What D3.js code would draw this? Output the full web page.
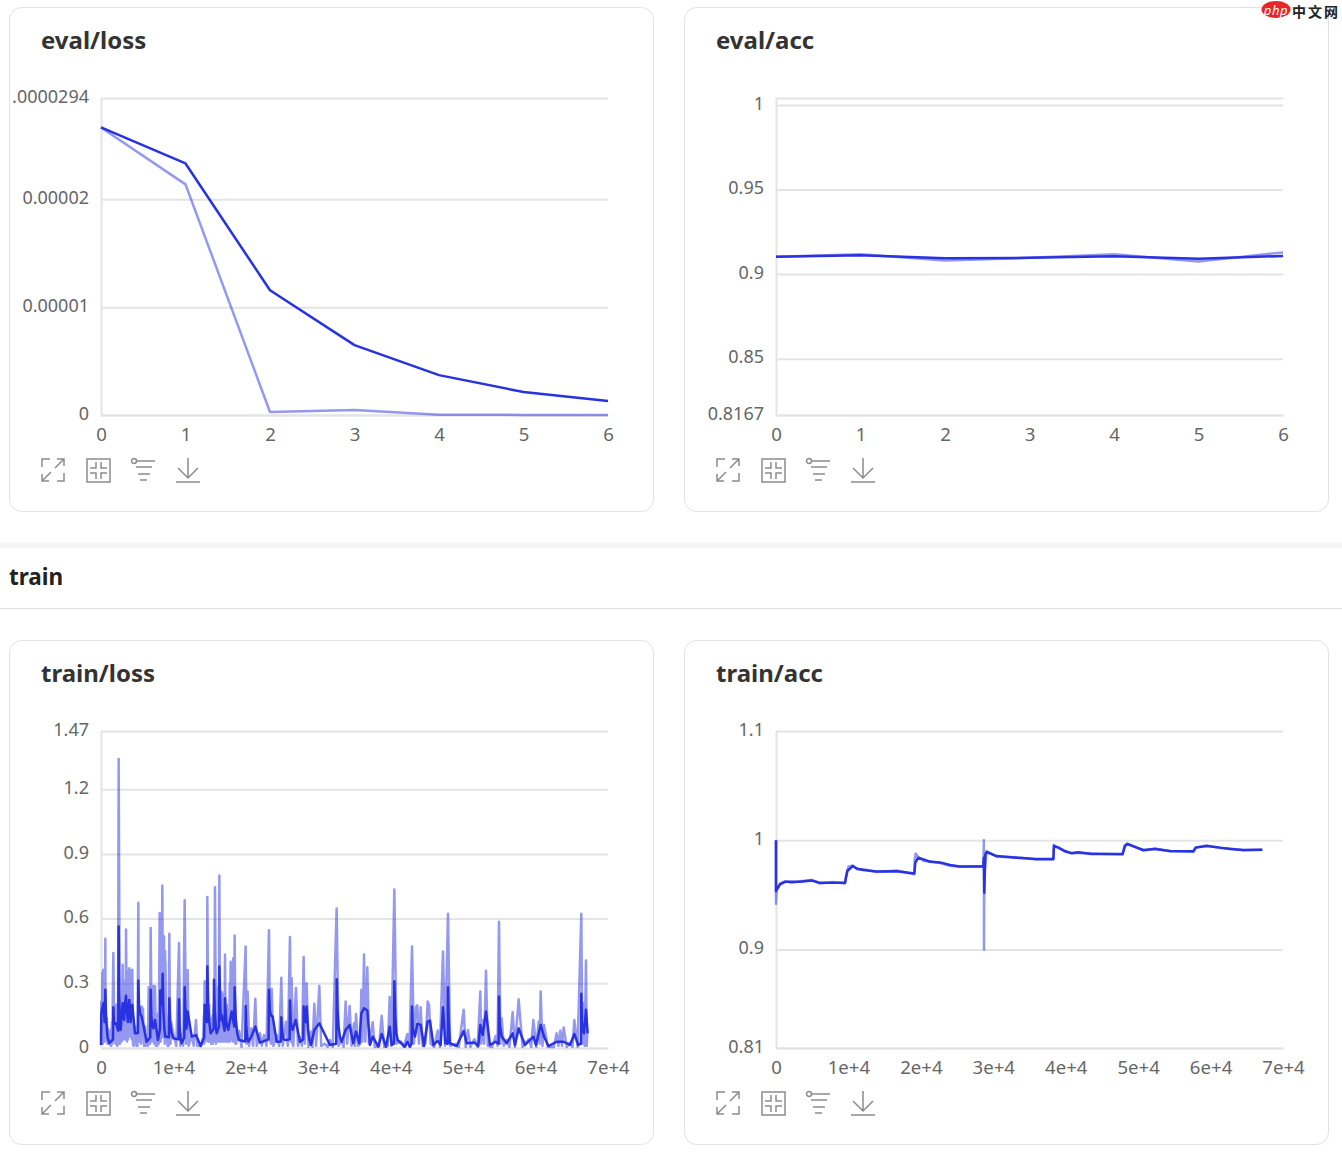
<!DOCTYPE html>
<html>
<head>
<meta charset="utf-8">
<script src="https://cdn.jsdelivr.net/npm/d3@7"></script>
<style>
  body { margin: 0; background: #fff; }
  text { font-family: "Noto Sans", sans-serif; }
</style>
</head>
<body>
<div id="chart"></div>
<script>
// eval charts
var evalSteps = [0, 1, 2, 3, 4, 5, 6];
var evalLossSmooth = [2.667e-5, 2.333e-5, 1.157e-5, 6.48e-6, 3.7e-6, 2.13e-6, 1.3e-6];
var evalLossRaw = [2.667e-5, 2.139e-5, 2.8e-7, 4.6e-7, 2e-8, 1e-8, 1e-8];
var evalAccSmooth = [0.9102, 0.9111, 0.9093, 0.9096, 0.9105, 0.9091, 0.9107];
var evalAccRaw = [0.9102, 0.9118, 0.9081, 0.9096, 0.9117, 0.9075, 0.9128];

// train/loss, read spike by spike. second block of each array = the small spikes
// in the busy stretches, added later (points get sorted by step before drawing)
var trainLossRawSteps = [
  0, 46, 120, 200, 322, 420, 480, 540, 598, 700,
  800, 900, 1150, 1400, 1702, 1850, 2071, 2250, 2439, 2600,
  2715, 2850, 2991, 3130, 3250, 3350, 3451, 3600, 3750, 3800,
  3911, 4050, 4200, 4260, 4325, 4500, 4694, 4900, 5154, 5300,
  5450, 5550, 5614, 5800, 5950, 6304, 6580, 6700, 6857, 7000,
  7225, 7350, 7455, 7650, 7869, 7980, 8099, 8240, 8467, 8560,
  8697, 8800, 8900, 9000, 9065, 9200, 9434, 9600, 9800, 10078,
  10400, 10768, 10950, 11136, 11350, 11551, 11750, 11965, 12100, 12517,
  12800, 13115, 13300, 13760, 14100, 14312, 14450, 14560, 14680, 14850,
  15000, 15140, 15300, 15500, 15738, 15900, 16100, 16200, 16337, 16500,
  16659, 16800, 16950, 17119, 17300, 17450, 17579, 17700, 17901, 18000,
  18100, 18269, 18350, 18453, 18650, 19052, 19400, 19972, 20100, 20248,
  20450, 20754, 21000, 21306, 21500, 21950, 22200, 22502, 22850, 23193,
  23350, 23561, 23800, 24251, 24600, 24895, 25100, 25540, 25800, 26093,
  26200, 26323, 26550, 26921, 27200, 27473, 27750, 27979, 28150, 28394,
  28650, 28992, 29200, 29452, 29700, 30143, 30400, 30925, 31300, 31615,
  32000, 32535, 32800, 33226, 33500, 33778, 34000, 34330, 34600, 34931,
  35060, 35207, 35500, 35800, 35944, 36100, 36312, 36500, 36772, 37000,
  37508, 37800, 38400, 38751, 39100, 39600, 39856, 40100, 40500, 40800,
  41420, 41800, 42295, 42600, 42939, 43200, 43500, 43675, 43900, 44135,
  44400, 44800, 45102, 45300, 45500, 46000, 46482, 46800, 47219, 47500,
  47909, 48200, 48876, 49400, 50072, 50350, 50670, 51000, 51544, 52000,
  52373, 52500, 52649, 52900, 53155, 53400, 54000, 54490, 54750, 54950,
  55150, 55318, 55600, 56008, 56400, 56837, 57150, 57665, 58200, 59046,
  59400, 59690, 60100, 60427, 60560, 60703, 60950, 61163, 61700, 62500,
  62912, 63150, 63418, 63650, 63878, 64300, 64753, 65100, 65351, 65800,
  66317, 66450, 66593, 66800, 66961, 67060, 67145,

  260, 620, 660, 760, 980, 1040, 1280, 1330, 1500, 1560,
  1950, 2000, 2150, 2350, 2650, 3050, 3080, 3190, 3210, 3300,
  3380, 3400, 3520, 3540, 3680, 3700, 3980, 4000, 4130, 4160,
  4400, 4430, 5000, 5050, 5200, 5240, 5380, 5400, 6100, 6150,
  6450, 6480, 6760, 6780, 7100, 7120, 7550, 7580, 7750, 7780,
  8180, 8200, 8350, 8370, 8620, 8640, 8850, 8860, 8950, 9300,
  9330, 9520, 9550, 9700, 14200, 14230, 14400, 14420, 14620, 14640,
  14780, 14800, 14950, 14970, 15220, 15240, 15400, 15420, 15620, 15640,
  15850, 15870, 16050, 16250, 16270, 16420, 16440, 16580, 16600, 16730,
  16750, 16880, 17020, 17040, 17200, 17220, 17360, 17380, 17500, 17520,
  17780, 17800, 18180, 18200, 18530, 18560, 23450, 23470, 26430, 26450
];
var trainLossRawValues = [
  0.05, 0.216, 0.02, 0.35, 0.363, 0.03, 0.36, 0.05, 0.507, 0.07,
  0.14, 0.02, 0.05, 0.01, 0.44, 0.03, 0.2, 0.01, 1.34, 0.02,
  0.2, 0.03, 0.386, 0.04, 0.3, 0.05, 0.549, 0.03, 0.36, 0.05,
  0.37, 0.06, 0.36, 0.04, 0.363, 0.01, 0.1, 0.01, 0.673, 0.03,
  0.19, 0.02, 0.192, 0.18, 0.01, 0.03, 0.282, 0.02, 0.557, 0.03,
  0.288, 0.02, 0.288, 0.01, 0.16, 0.02, 0.626, 0.03, 0.753, 0.05,
  0.518, 0.02, 0.4, 0.03, 0.1, 0.01, 0.53, 0.02, 0.1, 0.053,
  0.01, 0.487, 0.01, 0.06, 0.01, 0.685, 0.02, 0.36, 0.01, 0.06,
  0.01, 0.13, 0.01, 0.01, 0.05, 0.309, 0.04, 0.31, 0.7, 0.03,
  0.14, 0.13, 0.02, 0.16, 0.746, 0.03, 0.28, 0.03, 0.8, 0.04,
  0.26, 0.03, 0.25, 0.433, 0.03, 0.18, 0.17, 0.03, 0.4, 0.04,
  0.39, 0.417, 0.03, 0.522, 0.02, 0.08, 0.005, 0.471, 0.02, 0.262,
  0.01, 0.091, 0.01, 0.228, 0.01, 0.068, 0.01, 0.06, 0.01, 0.546,
  0.03, 0.274, 0.01, 0.06, 0.01, 0.326, 0.01, 0.122, 0.01, 0.515,
  0.03, 0.324, 0.01, 0.278, 0.01, 0.05, 0.01, 0.422, 0.02, 0.3,
  0.005, 0.076, 0.005, 0.205, 0.01, 0.288, 0.01, 0.02, 0.005, 0.037,
  0.005, 0.647, 0.01, 0.04, 0.005, 0.216, 0.02, 0.195, 0.01, 0.115,
  0.01, 0.158, 0.01, 0.02, 0.27, 0.03, 0.434, 0.03, 0.374, 0.02,
  0.119, 0.005, 0.01, 0.149, 0.005, 0.01, 0.236, 0.01, 0.735, 0.02,
  0.03, 0.005, 0.065, 0.005, 0.471, 0.02, 0.19, 0.198, 0.02, 0.189,
  0.01, 0.02, 0.216, 0.2, 0.02, 0.005, 0.081, 0.005, 0.448, 0.01,
  0.623, 0.01, 0.019, 0.005, 0.177, 0.005, 0.084, 0.005, 0.04, 0.005,
  0.262, 0.02, 0.13, 0.02, 0.358, 0.01, 0.005, 0.056, 0.01, 0.586,
  0.02, 0.138, 0.01, 0.037, 0.005, 0.167, 0.005, 0.226, 0.005, 0.04,
  0.005, 0.13, 0.005, 0.122, 0.02, 0.262, 0.01, 0.107, 0.005, 0.005,
  0.068, 0.01, 0.081, 0.01, 0.095, 0.005, 0.025, 0.005, 0.13, 0.005,
  0.622, 0.02, 0.208, 0.01, 0.406, 0.01, 0.068,

  0.02, 0.25, 0.03, 0.12, 0.09, 0.02, 0.08, 0.01, 0.12, 0.02,
  0.16, 0.02, 0.1, 0.03, 0.12, 0.2, 0.04, 0.29, 0.05, 0.28,
  0.32, 0.04, 0.3, 0.05, 0.35, 0.04, 0.34, 0.06, 0.35, 0.05,
  0.12, 0.02, 0.1, 0.01, 0.2, 0.03, 0.18, 0.03, 0.1, 0.01,
  0.05, 0.01, 0.14, 0.02, 0.2, 0.03, 0.1, 0.01, 0.08, 0.01,
  0.35, 0.05, 0.3, 0.05, 0.4, 0.05, 0.45, 0.03, 0.2, 0.15,
  0.01, 0.15, 0.02, 0.12, 0.15, 0.02, 0.2, 0.03, 0.3, 0.04,
  0.2, 0.03, 0.2, 0.03, 0.1, 0.02, 0.15, 0.02, 0.2, 0.03,
  0.15, 0.02, 0.25, 0.2, 0.03, 0.22, 0.03, 0.2, 0.03, 0.22,
  0.03, 0.24, 0.25, 0.03, 0.15, 0.03, 0.2, 0.03, 0.17, 0.03,
  0.3, 0.03, 0.38, 0.03, 0.18, 0.02, 0.16, 0.02, 0.15, 0.02
];

var trainLossSmoothSteps = [
  0, 46, 322, 598, 1150, 1702, 2071, 2439, 2715, 2991,
  3451, 3911, 4325, 4694, 5154, 5614, 6304, 6857, 7225, 7455,
  7869, 8191, 8513, 8881, 9434, 9986, 10768, 11136, 11551, 11965,
  12517, 13115, 13760, 14312, 14680, 15140, 15600, 15968, 16337, 16659,
  17119, 17579, 18040, 18453, 19052, 19972, 20340, 20754, 21306, 21950,
  23193, 23700, 24251, 24895, 25540, 26093, 26461, 26875, 27473, 27979,
  28394, 28992, 29452, 30143, 31615, 32535, 33226, 33778, 34330, 34836,
  35207, 35668, 35944, 36312, 36772, 37140, 37508, 38291, 38751, 39349,
  39856, 40132, 40500, 40960, 41972, 42295, 42663, 42939, 43353, 43675,
  44135, 44596, 45102, 45424, 45884, 46482, 46896, 47219, 47541, 47909,
  48185, 49105, 50072, 50486, 51544, 52097, 52373, 52695, 53155, 53707,
  54490, 54950, 55318, 56008, 56837, 57159, 57665, 58540, 59690, 60058,
  60703, 61163, 61761, 62912, 63878, 64753, 65351, 65903, 66317, 66685,
  66961, 67191,

  500, 700, 900, 1650, 1800, 2380, 2500, 2600, 3200, 3300,
  3700, 4100, 4200, 5100, 5250, 5400, 6800, 6950, 7050, 8150,
  8460, 8600, 8750, 9380, 9550, 9750, 10710, 10850, 10980, 11500,
  11650, 11800, 14250, 14640, 14800, 14950, 15560, 15700, 15850, 16290,
  16450, 16550, 17060, 17250, 17400, 18400, 18600, 18800, 19920, 20050,
  20200, 23130, 23320, 23500, 24840, 25000, 25200, 26040, 26200, 26300,
  27930, 28100, 28250, 28600, 28800, 32480, 32650, 32800, 33000, 40450,
  40620, 40780, 47860, 48000, 42890, 43050, 54900, 55050, 66270, 66400
];
var trainLossSmoothValues = [
  0.014, 0.161, 0.208, 0.27, 0.022, 0.189, 0.115, 0.564, 0.084, 0.208,
  0.242, 0.223, 0.2, 0.068, 0.313, 0.146, 0.029, 0.27, 0.091, 0.13,
  0.037, 0.267, 0.344, 0.053, 0.231, 0.045, 0.226, 0.022, 0.282, 0.169,
  0.053, 0.06, 0.009, 0.2, 0.378, 0.068, 0.316, 0.068, 0.378, 0.153,
  0.231, 0.084, 0.169, 0.282, 0.037, 0.195, 0.029, 0.053, 0.099, 0.025,
  0.27, 0.146, 0.029, 0.143, 0.037, 0.22, 0.084, 0.13, 0.029, 0.192,
  0.192, 0.014, 0.084, 0.115, 0.014, 0.319, 0.029, 0.084, 0.107, 0.022,
  0.076, 0.022, 0.161, 0.184, 0.174, 0.014, 0.053, 0.006, 0.065, 0.006,
  0.099, 0.014, 0.309, 0.037, 0.006, 0.029, 0.006, 0.192, 0.053, 0.112,
  0.107, 0.009, 0.122, 0.127, 0.014, 0.033, 0.014, 0.189, 0.022, 0.282,
  0.022, 0.009, 0.079, 0.022, 0.025, 0.009, 0.107, 0.06, 0.169, 0.014,
  0.029, 0.239, 0.053, 0.022, 0.068, 0.014, 0.091, 0.014, 0.053, 0.014,
  0.107, 0.053, 0.009, 0.029, 0.029, 0.014, 0.065, 0.014, 0.251, 0.068,
  0.177, 0.068,

  0.12, 0.14, 0.05, 0.04, 0.11, 0.08, 0.25, 0.13, 0.13, 0.2,
  0.12, 0.12, 0.19, 0.07, 0.2, 0.16, 0.05, 0.15, 0.11, 0.09,
  0.2, 0.18, 0.09, 0.05, 0.12, 0.07, 0.04, 0.1, 0.05, 0.05,
  0.18, 0.09, 0.05, 0.12, 0.2, 0.12, 0.09, 0.18, 0.1, 0.1,
  0.22, 0.13, 0.08, 0.14, 0.1, 0.1, 0.14, 0.07, 0.03, 0.1,
  0.05, 0.04, 0.17, 0.15, 0.03, 0.08, 0.04, 0.04, 0.12, 0.1,
  0.04, 0.15, 0.12, 0.08, 0.035, 0.02, 0.18, 0.1, 0.05, 0.02,
  0.15, 0.07, 0.02, 0.13, 0.02, 0.09, 0.02, 0.11, 0.02, 0.12
];

// train/acc
var trainAccRawSteps = [
  0, 0, 100, 553, 1243, 2200, 3313, 4925, 6075, 7800,
  9527, 9700, 9987, 10585, 11229, 12058, 13898, 16660, 19099, 19150,
  19283, 19649, 20400, 21260, 22642, 24023, 25403, 28625, 28700, 28720,
  28760, 29085, 30466, 33233, 35930, 38291, 38350, 38500, 38982, 39902,
  40822, 41743, 43584, 47863, 48100, 48507, 49797, 50717, 52328, 54398,
  57620, 57942, 59460, 61301, 62682, 64523, 67146
];
var trainAccRawValues = [
  1, 0.942, 0.955, 0.9605, 0.9625, 0.9612, 0.9625, 0.9638, 0.9605, 0.9618,
  0.9605, 0.968, 0.9758, 0.977, 0.9735, 0.9735, 0.971, 0.9725, 0.969, 0.982,
  0.988, 0.9845, 0.981, 0.9808, 0.9792, 0.9768, 0.9758, 0.9765, 1, 0.9,
  0.97, 0.99, 0.985, 0.9845, 0.9825, 0.9825, 0.996, 0.9945, 0.9935, 0.9895,
  0.9885, 0.9885, 0.988, 0.987, 0.995, 0.997, 0.9935, 0.9905, 0.9925, 0.99,
  0.9895, 0.9935, 0.9952, 0.993, 0.9925, 0.991, 0.9914
];
var trainAccSmoothSteps = [
  0, 0, 553, 1243, 3313, 4925, 6075, 9527, 9849, 10585,
  11229, 12058, 13898, 16660, 19099, 19237, 19649, 21260, 22642, 24023,
  25403, 28625, 28700, 28760, 28900, 29085, 30466, 33233, 35930, 38291,
  38383, 38982, 39902, 40822, 41743, 43584, 47863, 48186, 48507, 49797,
  50717, 52328, 54398, 57620, 57942, 59460, 61301, 62682, 64523, 67146
];
var trainAccSmoothValues = [
  1, 0.9535, 0.9596, 0.962, 0.962, 0.9633, 0.9611, 0.9611, 0.9719, 0.9764,
  0.974, 0.9728, 0.9715, 0.9718, 0.9697, 0.9795, 0.9841, 0.9804, 0.9798, 0.9774,
  0.9761, 0.9761, 0.984, 0.952, 0.987, 0.9893, 0.9856, 0.984, 0.983, 0.9829,
  0.9948, 0.9933, 0.9902, 0.9881, 0.989, 0.9875, 0.9875, 0.9948, 0.9966, 0.9933,
  0.9911, 0.992, 0.9902, 0.9899, 0.9933, 0.9948, 0.9933, 0.992, 0.9911, 0.9914
];

// tick labels
var evalXTicks = [0, 1, 2, 3, 4, 5, 6];
var trainXTicks = [0, 10000, 20000, 30000, 40000, 50000, 60000, 70000];
var trainXLabels = ["0", "1e+4", "2e+4", "3e+4", "4e+4", "5e+4", "6e+4", "7e+4"];
var evalLossTicks = [0, 0.00001, 0.00002, 0.0000294];
var evalLossLabels = ["0", "0.00001", "0.00002", ".0000294"];
var evalAccTicks = [0.8167, 0.85, 0.9, 0.95, 1, 1.0041];
var evalAccLabels = ["0.8167", "0.85", "0.9", "0.95", "1", ""];
var trainLossTicks = [0, 0.3, 0.6, 0.9, 1.2, 1.47];
var trainLossLabels = ["0", "0.3", "0.6", "0.9", "1.2", "1.47"];
var trainAccTicks = [0.81, 0.9, 1, 1.1];
var trainAccLabels = ["0.81", "0.9", "1", "1.1"];

var width = 1342;
var height = 1154;
var lineColor = "#2932e1";
var gridColor = "#e4e4e4";
var tickColor = "#666";
var iconColor = "#8c8c8c";

var svg = d3.select("#chart").append("svg")
  .attr("width", width)
  .attr("height", height)
  .style("display", "block");

// section divider
svg.append("rect").attr("x", 0).attr("y", 542).attr("width", width).attr("height", 6).attr("fill", "#f5f5f5");
svg.append("rect").attr("x", 0).attr("y", 608).attr("width", width).attr("height", 1).attr("fill", "#dedede");
svg.append("text").attr("x", 9).attr("y", 585)
  .attr("font-size", "22.5px").attr("font-weight", "bold").attr("fill", "#222")
  .text("train");

function drawIcons(g) {
  var icon = function(x) {
    return g.append("g").attr("transform", "translate(" + x + ",0)")
      .attr("fill", "none").attr("stroke", iconColor).attr("stroke-width", 1.5);
  };
  icon(32).append("path").attr("d", "M9 1H1V9M14 10L23 1M16 1H23V8M1 23L10 14M1 16V23H8M23 15V23H16");
  var fit = icon(77);
  fit.append("rect").attr("x", 1).attr("y", 1).attr("width", 23).attr("height", 23);
  fit.append("path").attr("d", "M10 4V10H4M15 4V10H21M4 15H10V21M21 15H15V21");
  var filter = icon(122);
  filter.append("circle").attr("cx", 3).attr("cy", 3).attr("r", 2.5);
  filter.append("path").attr("d", "M6 3H24M5 9H21M7 16H19M9 22H16");
  icon(167).append("path").attr("d", "M0 24H24M12 0V20M2 10L12 20L22 10");
}

function sortedPoints(steps, values) {
  return d3.zip(steps, values).sort(function(a, b) { return a[0] - b[0]; });
}

function drawCard(opts) {
  var card = svg.append("g").attr("transform", "translate(" + opts.x + "," + opts.y + ")");

  card.append("rect")
    .attr("x", 0.5).attr("y", 0.5)
    .attr("width", 644).attr("height", 504)
    .attr("rx", 12)
    .attr("fill", "#fff").attr("stroke", "#e2e2e2");

  card.append("text").attr("x", 32).attr("y", 42)
    .attr("font-size", "24px").attr("font-weight", "bold").attr("fill", "#333")
    .text(opts.title);

  var x = d3.scaleLinear().domain(opts.xDomain).range([92, 599]);
  var y = d3.scaleLinear().domain(opts.yDomain).range([408, 91]);

  // y axis, the tick lines are the grid
  var yAxis = card.append("g")
    .attr("transform", "translate(92,0)")
    .call(d3.axisLeft(y)
      .tickValues(opts.yTicks)
      .tickFormat(function(d, i) { return opts.yLabels[i]; })
      .tickSize(-507)
      .tickPadding(12));
  yAxis.selectAll("line").attr("stroke", gridColor).attr("stroke-width", 2);
  yAxis.selectAll("text").attr("fill", tickColor).attr("font-size", "18px").attr("dy", "4.3px")
    .style("font-family", '"Noto Sans", sans-serif');
  yAxis.select(".domain").attr("stroke", gridColor).attr("stroke-width", 2).attr("d", "M0.5,91V408");

  var xAxis = card.append("g")
    .attr("transform", "translate(0,408)")
    .call(d3.axisBottom(x)
      .tickValues(opts.xTicks)
      .tickFormat(function(d, i) { return opts.xLabels ? opts.xLabels[i] : d; })
      .tickSize(0)
      .tickPadding(13));
  xAxis.selectAll("text").attr("fill", tickColor).attr("font-size", "18.6px")
    .style("font-family", '"Noto Sans", sans-serif');
  xAxis.select(".domain").attr("stroke", gridColor).attr("stroke-width", 2);

  var line = d3.line()
    .x(function(d) { return x(d[0]); })
    .y(function(d) { return y(d[1]); });

  card.append("path")
    .attr("d", line(sortedPoints(opts.rawSteps, opts.raw)))
    .attr("fill", "none").attr("stroke", lineColor).attr("stroke-width", 2.5)
    .attr("stroke-opacity", 0.5).attr("stroke-linejoin", "round");
  card.append("path")
    .attr("d", line(sortedPoints(opts.smoothSteps, opts.smooth)))
    .attr("fill", "none").attr("stroke", lineColor).attr("stroke-width", 2.5)
    .attr("stroke-linejoin", "round");

  drawIcons(card.append("g").attr("transform", "translate(0,451)"));
}

drawCard({
  x: 9, y: 7, title: "eval/loss",
  xDomain: [0, 6], yDomain: [0, 0.0000294],
  xTicks: evalXTicks, yTicks: evalLossTicks, yLabels: evalLossLabels,
  rawSteps: evalSteps, raw: evalLossRaw, smoothSteps: evalSteps, smooth: evalLossSmooth
});
drawCard({
  x: 684, y: 7, title: "eval/acc",
  xDomain: [0, 6], yDomain: [0.8167, 1.0041],
  xTicks: evalXTicks, yTicks: evalAccTicks, yLabels: evalAccLabels,
  rawSteps: evalSteps, raw: evalAccRaw, smoothSteps: evalSteps, smooth: evalAccSmooth
});
drawCard({
  x: 9, y: 640, title: "train/loss",
  xDomain: [0, 70000], yDomain: [0, 1.47],
  xTicks: trainXTicks, xLabels: trainXLabels, yTicks: trainLossTicks, yLabels: trainLossLabels,
  rawSteps: trainLossRawSteps, raw: trainLossRawValues, smoothSteps: trainLossSmoothSteps, smooth: trainLossSmoothValues
});
drawCard({
  x: 684, y: 640, title: "train/acc",
  xDomain: [0, 70000], yDomain: [0.81, 1.1],
  xTicks: trainXTicks, xLabels: trainXLabels, yTicks: trainAccTicks, yLabels: trainAccLabels,
  rawSteps: trainAccRawSteps, raw: trainAccRawValues, smoothSteps: trainAccSmoothSteps, smooth: trainAccSmoothValues
});

// site watermark, top right
var mark = svg.append("g");
mark.append("ellipse").attr("cx", 1276).attr("cy", 9.5).attr("rx", 14.5).attr("ry", 8.5).attr("fill", "#e8262a");
mark.append("text").attr("x", 1276).attr("y", 14.5).attr("text-anchor", "middle")
  .attr("font-size", "13px").attr("font-style", "italic").attr("letter-spacing", "0.6px").attr("fill", "#fff").text("php");
mark.append("text").attr("x", 1292).attr("y", 16.5)
  .attr("font-size", "14px").attr("font-weight", "bold").attr("letter-spacing", "2px").attr("fill", "#222")
  .style("font-family", '"Noto Sans CJK SC", sans-serif').text("中文网");
</script>
</body>
</html>
